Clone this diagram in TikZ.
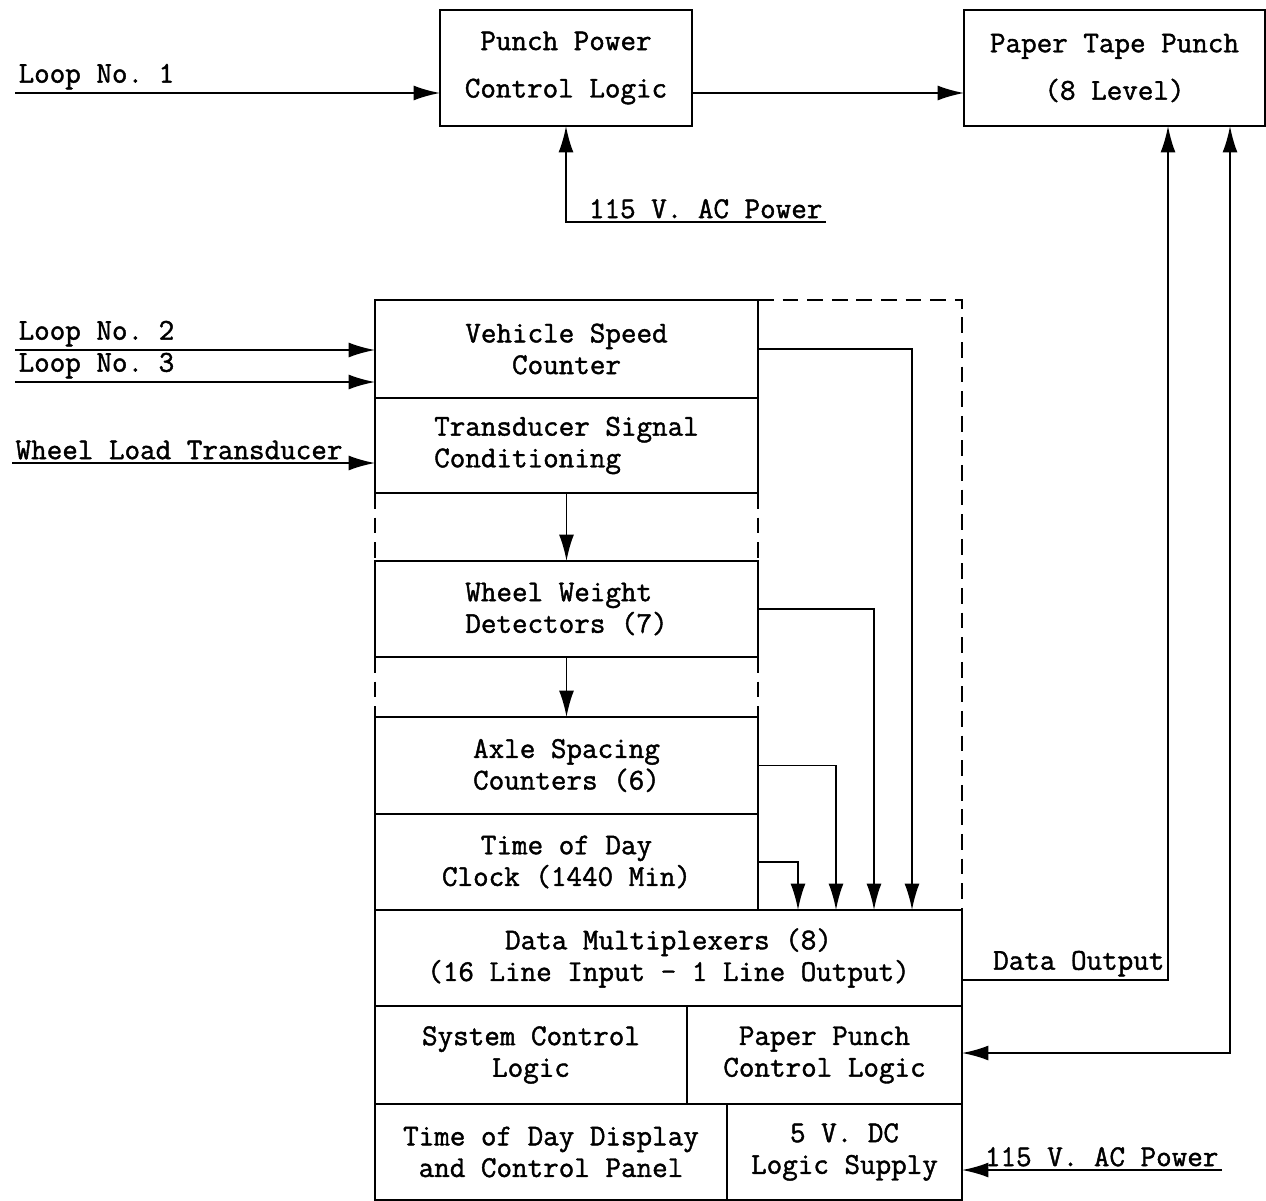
\documentclass[tikz,border=0pt]{standalone}
\usepackage{fontspec}
\setmonofont[FakeBold=1.4]{Latin Modern Mono}
\usetikzlibrary{arrows.meta}

\begin{document}
\begin{tikzpicture}[x=0.02cm, y=-0.02cm,
    font=\ttfamily\fontsize{17.2}{18}\selectfont,
    blk/.style={draw, line width=1.6pt, inner sep=0pt, outer sep=0pt, align=center},
    wire/.style={line width=1.1pt},
    arr/.style={wire, -{Latex[length=15pt,width=8.5pt]}},
    dblarr/.style={wire, {Latex[length=15pt,width=8.5pt]}-{Latex[length=15pt,width=8.5pt]}},
    dashbox/.style={line width=1.6pt, dash pattern=on 9pt off 5pt},
    lbl/.style={anchor=south west, inner sep=1.5pt}]
    \useasboundingbox (0,0) rectangle (1266,1200);
    \node[blk, minimum width=5.04cm, minimum height=2.32cm] (ppc) at (566,68) {Punch Power\\[9pt]Control Logic};
    \node[blk, minimum width=6.02cm, minimum height=2.32cm] (ptp) at (1114.5,68) {Paper Tape Punch\\[9pt](8 Level)};
    \node[blk, minimum width=7.66cm, minimum height=1.96cm] (vsc) at (566.5,349) {Vehicle Speed\\Counter};
    \node[blk, minimum width=7.66cm, minimum height=1.9cm, align=left] (tsc) at (566.5,445.5) {Transducer Signal\\Conditioning};
    \node[blk, minimum width=7.66cm, minimum height=1.92cm, align=left] (wwd) at (566.5,609) {Wheel Weight\\Detectors (7)};
    \node[blk, minimum width=7.66cm, minimum height=1.94cm] (asc) at (566.5,765.5) {Axle Spacing\\Counters (6)};
    \node[blk, minimum width=7.66cm, minimum height=1.92cm] (tdc) at (566.5,862) {Time of Day\\Clock (1440 Min)};
    \node[blk, minimum width=11.74cm, minimum height=1.92cm] (dmx) at (668.5,958) {Data Multiplexers (8)\\(16 Line Input - 1 Line Output)};
    \node[blk, minimum width=6.24cm, minimum height=1.96cm] (scl) at (531,1055) {System Control\\Logic};
    \node[blk, minimum width=5.5cm, minimum height=1.96cm] (ppl) at (824.5,1055) {Paper Punch\\Control Logic};
    \node[blk, minimum width=7.04cm, minimum height=1.92cm] (tdd) at (551,1152) {Time of Day Display\\and Control Panel};
    \node[blk, minimum width=4.7cm, minimum height=1.92cm] (lsp) at (844.5,1152) {5 V. DC\\Logic Supply};
    \coordinate (in1) at (15,93);
    \coordinate (in2) at (15,350);
    \coordinate (in3) at (15,382);
    \coordinate (in4) at (12,463);
    \coordinate (ac1) at (826,222);
    \coordinate (ac2) at (1222,1170);
    \coordinate (dout) at (1168,980);
    \coordinate (pctl) at (1230,1053);
    \draw[arr] (in1) node[lbl] {Loop No. 1} -- (in1 -| ppc.west);
    \draw[arr] (in2) node[lbl] {Loop No. 2} -- (in2 -| vsc.west);
    \draw[arr] (in3) node[lbl] {Loop No. 3} -- (in3 -| vsc.west);
    \draw[arr] (in4) node[lbl] {Wheel Load Transducer} -- (in4 -| tsc.west);
    \draw[arr] (ppc.east |- in1) -- (ptp.west |- in1);
    \draw[arr] (ac1) node[lbl, anchor=south east] {115 V. AC Power} -| (ppc.south);
    \draw[arr] (tsc.south) -- (wwd.north);
    \draw[arr] (wwd.south) -- (asc.north);
    \foreach \src/\col in {vsc/912, wwd/874, asc/836, tdc/798} {
        \coordinate (c) at (\col,0);
        \draw[arr] (\src.east) -| (dmx.north -| c);
    }
    \draw[dashbox] (vsc.north east) -- (vsc.north east -| dmx.east) -- (dmx.north east);
    \draw[dashbox] (tsc.south west) -- (wwd.north west) (tsc.south east) -- (wwd.north east)
        (wwd.south west) -- (asc.north west) (wwd.south east) -- (asc.north east);
    \draw[arr] (dmx.east |- dout) -- (dout) node[lbl, anchor=south east] {Data Output} -- (dout |- ptp.south);
    \draw[dblarr] (ppl.east |- pctl) -- (pctl) -- (pctl |- ptp.south);
    \draw[arr] (ac2) node[lbl, anchor=south east] {115 V. AC Power} -- (ac2 -| lsp.east);
\end{tikzpicture}
\end{document}
